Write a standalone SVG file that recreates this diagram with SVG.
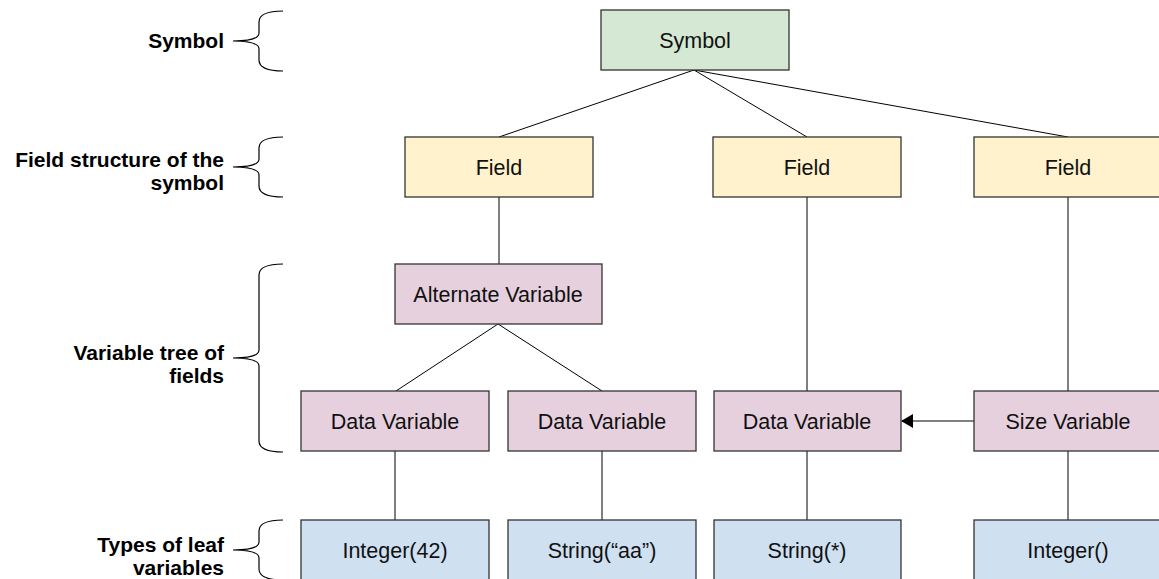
<svg xmlns="http://www.w3.org/2000/svg" width="1159" height="579" viewBox="0 0 1159 579">
  <defs>
    <style>
      .box { stroke: #333333; stroke-width: 1.3; }
      .sym { fill: #d5e8d4; }
      .fld { fill: #fff2cc; }
      .var { fill: #e6d0de; }
      .leaf { fill: #cfe0f1; }
      .t { font-family: "Liberation Sans", Arial, sans-serif; font-size: 21.5px; fill: #111111; text-anchor: middle; dominant-baseline: central; }
      .lbl { font-family: "Liberation Sans", Arial, sans-serif; font-size: 21px; font-weight: bold; fill: #000000; text-anchor: end; }
      .edge { stroke: #000000; stroke-width: 1; fill: none; }
      .brace { stroke: #000000; stroke-width: 1.2; fill: none; }
    </style>
    <marker id="arrow" markerWidth="12" markerHeight="14" refX="11" refY="7" orient="auto" markerUnits="userSpaceOnUse">
      <path d="M0,0 L12,7 L0,14 Z" fill="#000000"/>
    </marker>
  </defs>
  <rect width="1159" height="579" fill="#ffffff"/>

  <!-- level labels with braces -->
  <g id="legend">
    <text class="lbl" x="224" y="48">Symbol</text>
    <path class="brace" d="M283,11 Q259,11 259,22 L259,33 Q259,41 233,41 Q259,41 259,49 L259,60 Q259,71 283,71"/>

    <text class="lbl" x="224" y="167">Field structure of the</text>
    <text class="lbl" x="224" y="190">symbol</text>
    <path class="brace" d="M283,137 Q259,137 259,148 L259,159 Q259,167 233,167 Q259,167 259,175 L259,186 Q259,197 283,197"/>

    <text class="lbl" x="224" y="360">Variable tree of</text>
    <text class="lbl" x="224" y="383">fields</text>
    <path class="brace" d="M283,264 Q259,264 259,275 L259,350 Q259,358 233,358 Q259,358 259,366 L259,441 Q259,452 283,452"/>

    <text class="lbl" x="224" y="552">Types of leaf</text>
    <text class="lbl" x="224" y="575">variables</text>
    <path class="brace" d="M283,520 Q259,520 259,531 L259,542 Q259,550 233,550 Q259,550 259,558 L259,569 Q259,580 283,580"/>
  </g>

  <!-- connectors -->
  <g id="connectors">
    <line class="edge" x1="694" y1="70" x2="499" y2="137"/>
    <line class="edge" x1="694" y1="70" x2="807" y2="137"/>
    <line class="edge" x1="694" y1="70" x2="1068" y2="137"/>
    <line class="edge" x1="499" y1="197" x2="499" y2="264"/>
    <line class="edge" x1="807" y1="197" x2="807" y2="391"/>
    <line class="edge" x1="1068" y1="197" x2="1068" y2="391"/>
    <line class="edge" x1="498" y1="324" x2="396" y2="391"/>
    <line class="edge" x1="498" y1="324" x2="602" y2="391"/>
    <line class="edge" x1="395" y1="451" x2="395" y2="520"/>
    <line class="edge" x1="602" y1="451" x2="602" y2="520"/>
    <line class="edge" x1="807" y1="451" x2="807" y2="520"/>
    <line class="edge" x1="1068" y1="451" x2="1068" y2="520"/>
    <line class="edge" x1="974" y1="421" x2="902" y2="421" marker-end="url(#arrow)"/>
  </g>

  <!-- nodes -->
  <g id="symbol"><rect class="box sym" x="601" y="10" width="188" height="60"/><text class="t" x="695" y="41">Symbol</text></g>

  <g id="field1"><rect class="box fld" x="405" y="137" width="188" height="60"/><text class="t" x="499" y="168">Field</text></g>
  <g id="field2"><rect class="box fld" x="713" y="137" width="188" height="60"/><text class="t" x="807" y="168">Field</text></g>
  <g id="field3"><rect class="box fld" x="974" y="137" width="188" height="60"/><text class="t" x="1068" y="168">Field</text></g>

  <g id="alt-var"><rect class="box var" x="395" y="264" width="207" height="60"/><text class="t" x="498" y="295">Alternate Variable</text></g>

  <g id="data-var1"><rect class="box var" x="301" y="391" width="188" height="60"/><text class="t" x="395" y="422">Data Variable</text></g>
  <g id="data-var2"><rect class="box var" x="508" y="391" width="188" height="60"/><text class="t" x="602" y="422">Data Variable</text></g>
  <g id="data-var3"><rect class="box var" x="714" y="391" width="187" height="60"/><text class="t" x="807" y="422">Data Variable</text></g>
  <g id="size-var"><rect class="box var" x="974" y="391" width="188" height="60"/><text class="t" x="1068" y="422">Size Variable</text></g>

  <g id="leaf1"><rect class="box leaf" x="301" y="520" width="188" height="70"/><text class="t" x="395" y="551">Integer(42)</text></g>
  <g id="leaf2"><rect class="box leaf" x="508" y="520" width="188" height="70"/><text class="t" x="602" y="551">String(“aa”)</text></g>
  <g id="leaf3"><rect class="box leaf" x="714" y="520" width="187" height="70"/><text class="t" x="807" y="551">String(*)</text></g>
  <g id="leaf4"><rect class="box leaf" x="974" y="520" width="188" height="70"/><text class="t" x="1068" y="551">Integer()</text></g>
</svg>
